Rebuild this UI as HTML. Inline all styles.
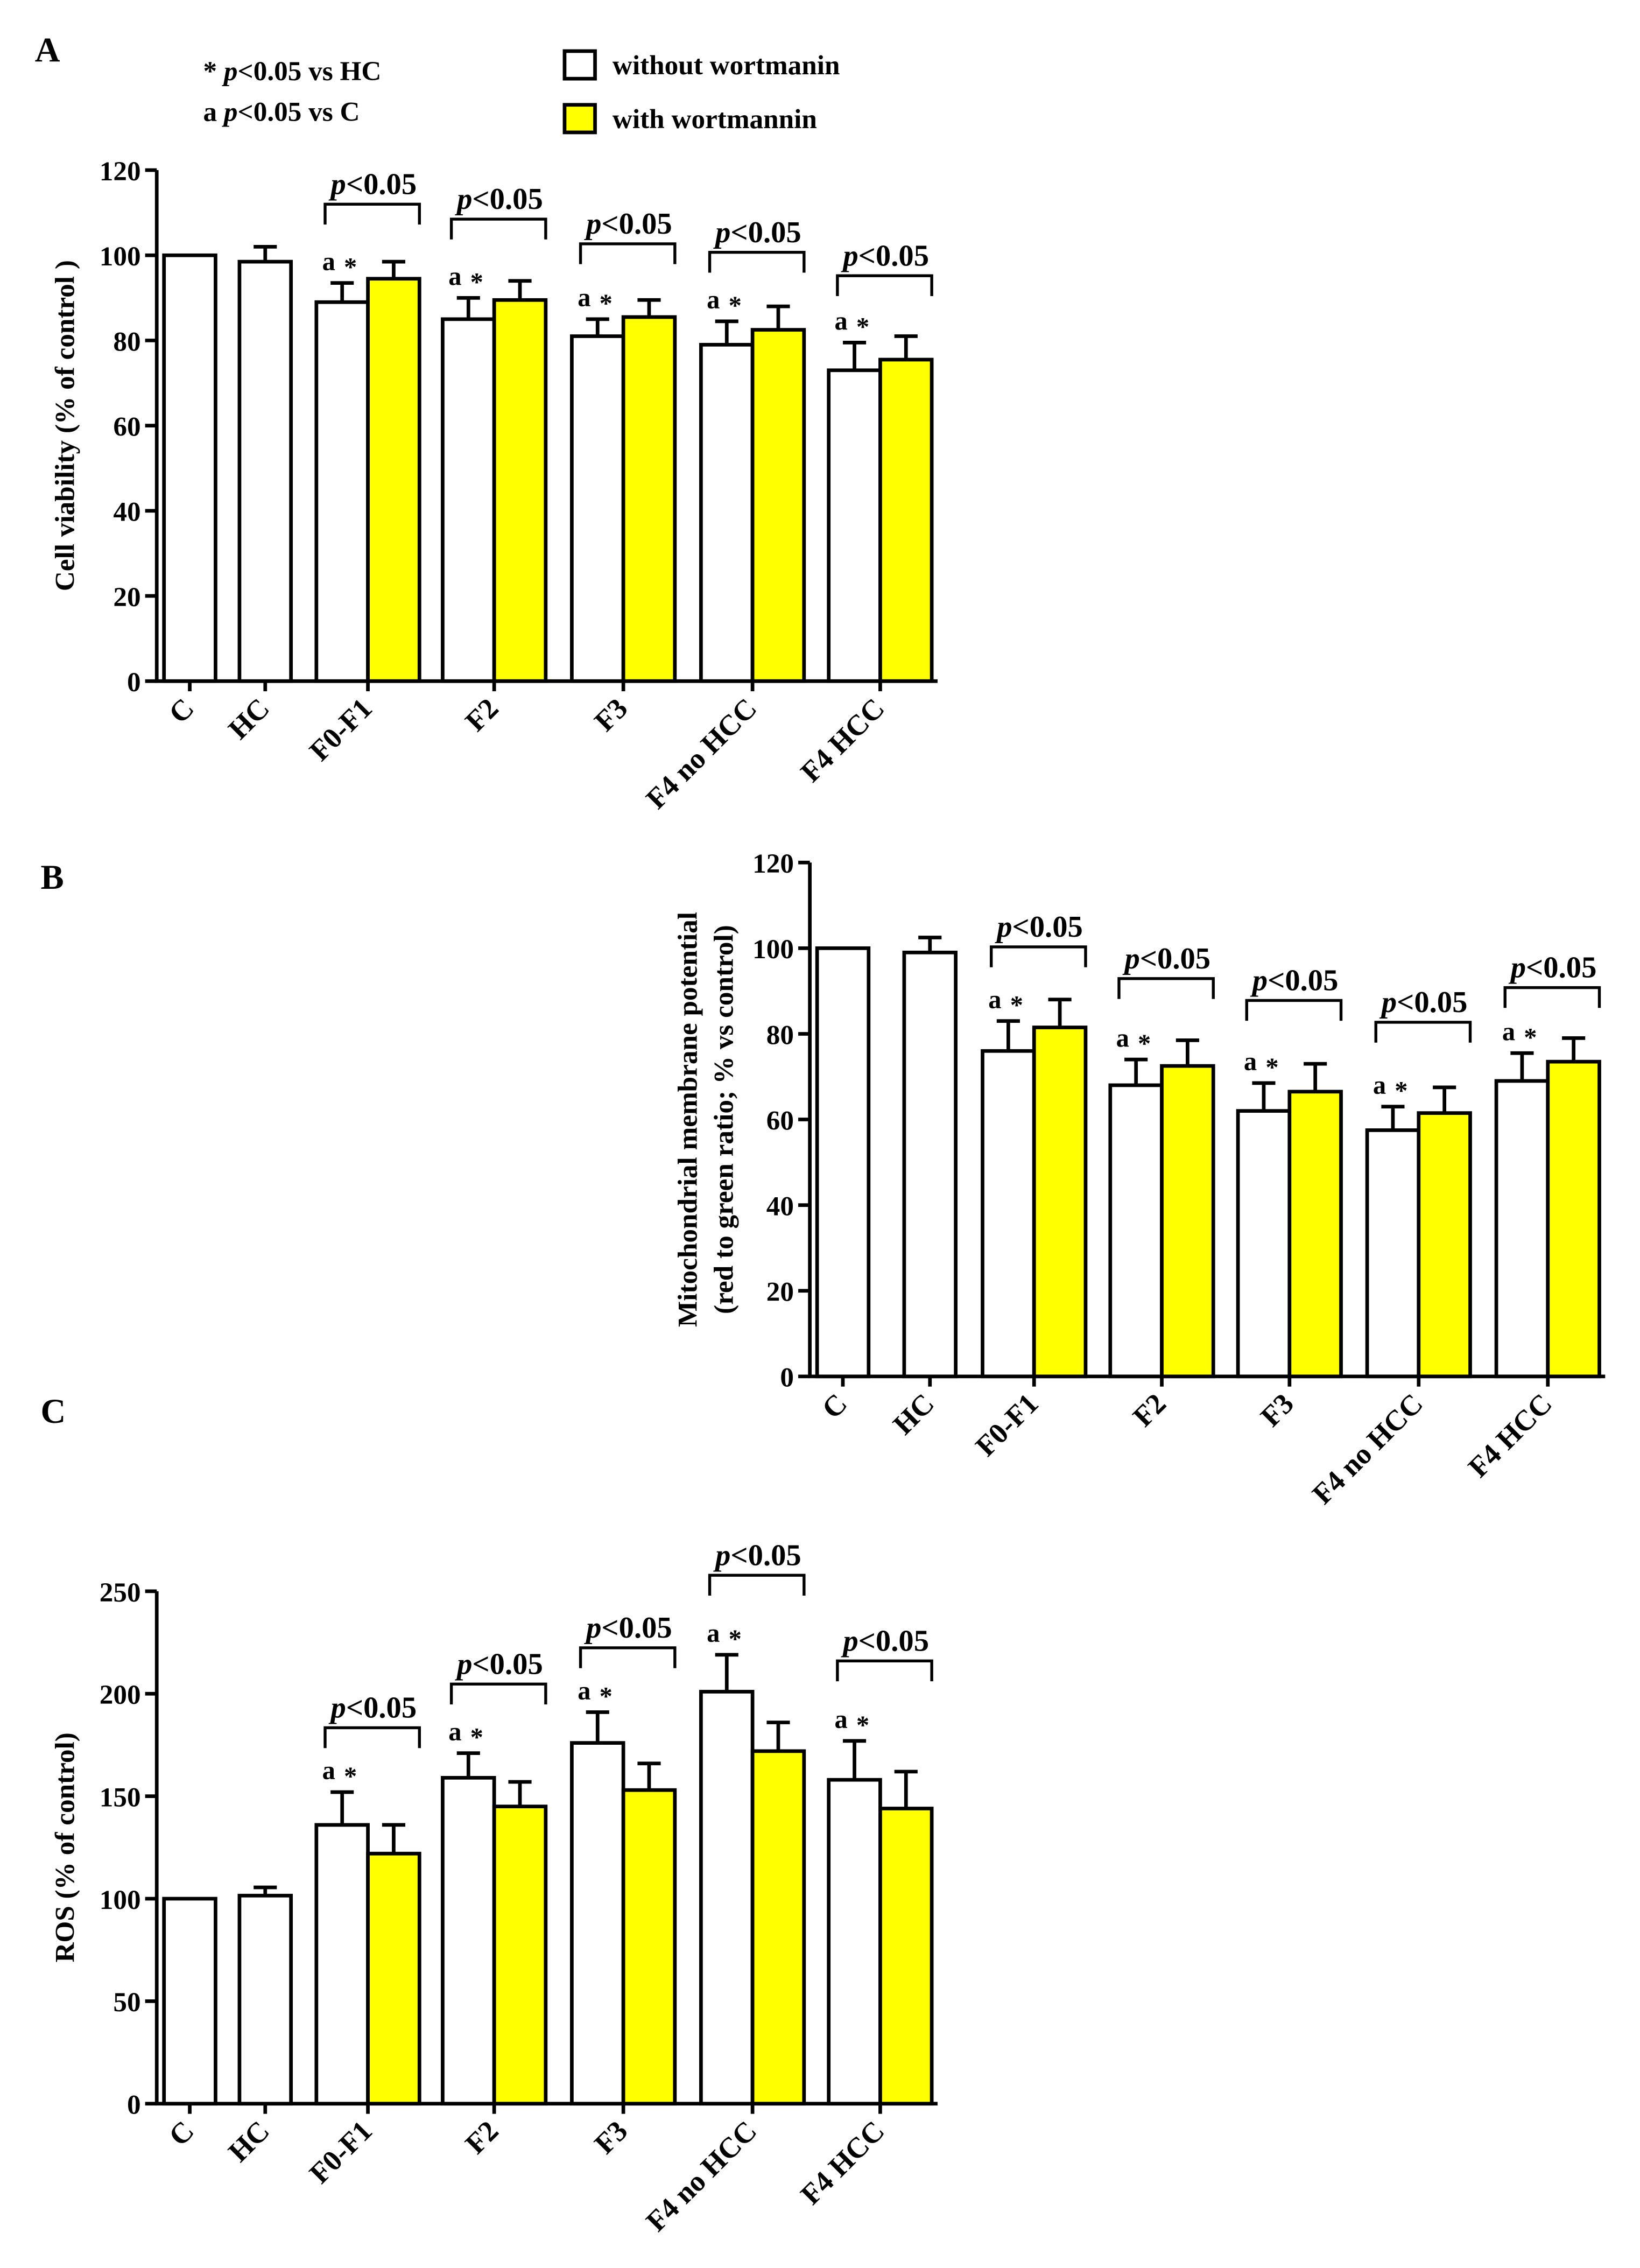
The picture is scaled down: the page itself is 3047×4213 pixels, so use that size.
<!DOCTYPE html>
<html><head><meta charset="utf-8"><style>
html,body{margin:0;padding:0;background:#fff}
svg{display:block}
text{font-family:"Liberation Serif",serif;font-weight:bold;fill:#000}
</style></head><body>
<svg id="fig" width="3047" height="4213" viewBox="0 0 1130 1562" xmlns="http://www.w3.org/2000/svg">
<g>
<text x="24" y="42" font-size="24">A</text>
<text x="28" y="612" font-size="24">B</text>
<text x="28" y="980" font-size="24">C</text>
</g>
<g>
<text x="140" y="55" font-size="19">* <tspan font-style="italic">p</tspan>&lt;0.05 vs HC</text>
<text x="140" y="83" font-size="19">a <tspan font-style="italic">p</tspan>&lt;0.05 vs C</text>
</g>
<g>
<rect x="389" y="35" width="21" height="19" fill="#fff" stroke="#000" stroke-width="2.5"/>
<text x="422" y="51" font-size="19">without wortmanin</text>
<rect x="389" y="72" width="21" height="19" fill="#ffff00" stroke="#000" stroke-width="2.5"/>
<text x="422" y="88" font-size="19">with wortmannin</text>
</g>
<g id="pa"></g>
<g id="pb"></g>
<g id="pc"></g>
</svg>
<script>
const categories = ["C","HC","F0-F1","F2","F3","F4 no HCC","F4 HCC"];
// Panel A: cell viability
const aWithout = [100, 98.5, 89, 85, 81, 79, 73];
const aWithoutErr = [0, 3.5, 4.5, 5, 4, 5.5, 6.5];
const aWith = [null, null, 94.5, 89.5, 85.5, 82.5, 75.5];
const aWithErr = [0, 0, 4, 4.5, 4, 5.5, 5.5];
const aBracket = [null, null, 112, 108.5, 102.7, 100.7, 95.2];
const aTicks = [0,20,40,60,80,100,120];
// Panel B: mitochondrial membrane potential
const bWithout = [100, 99, 76, 68, 62, 57.5, 69];
const bWithoutErr = [0, 3.5, 7, 6, 6.5, 5.5, 6.5];
const bWith = [null, null, 81.5, 72.5, 66.5, 61.5, 73.5];
const bWithErr = [0, 0, 6.5, 6, 6.5, 6, 5.5];
const bBracket = [null, null, 100.3, 92.9, 87.8, 82.7, 90.8];
const bTicks = [0,20,40,60,80,100,120];
// Panel C: ROS
const cWithout = [100, 101.5, 136, 159, 176, 201, 158];
const cWithoutErr = [0, 4, 16, 12, 15, 18, 19];
const cWith = [null, null, 122, 145, 153, 172, 144];
const cWithErr = [0, 0, 14, 12, 13, 14, 18];
const cBracket = [null, null, 183.4, 204.7, 222.4, 257.8, 216];
const cTicks = [0,50,100,150,200,250];

const NS="http://www.w3.org/2000/svg";
function mk(parent,tag,attrs,txt){const e=document.createElementNS(NS,tag);for(const k in attrs)e.setAttribute(k,attrs[k]);if(txt!==undefined)e.textContent=txt;parent.appendChild(e);return e;}

function drawPanel(g, o){
  const y = v => o.y0 - v/(o.ymax) * (o.y0 - o.ytop);
  const ya=mk(g,'line',{x1:o.ax,y1:o.ytop,x2:o.ax,y2:o.y0+1,stroke:'#000','stroke-width':2.5});
  
  
  const xa=mk(g,'line',{x1:o.ax-1,y1:o.y0,x2:o.xend,y2:o.y0,stroke:'#000','stroke-width':2.5});
  
  
  o.ticks.forEach(t=>{
    const l=mk(g,'line',{x1:o.ax-8,y1:y(t),x2:o.ax,y2:y(t),stroke:'#000','stroke-width':2.5});
    
    
    const tx=mk(g,'text',{x:o.ax-11,y:y(t)+7,'font-size':19,'text-anchor':'end'},String(t));
    
    
  });
  const bw=35.5;
  categories.forEach((c,i)=>{
    const x0=o.xs[i];
    const hasWith=o.w[i]!==null;
    const bars=[[o.wo[i],o.woe[i],x0,'#fff']];
    if(hasWith) bars.push([o.w[i],o.we[i],x0+bw,'#ffff00']);
    bars.forEach((b,j)=>{
      const [v,e,bx,col]=b;
      if(e>0){
        const el=mk(g,'line',{x1:bx+bw/2,y1:y(v),x2:bx+bw/2,y2:y(v+e),stroke:'#000','stroke-width':2.5});
        
        
        const ec=mk(g,'line',{x1:bx+bw/2-8,y1:y(v+e),x2:bx+bw/2+8,y2:y(v+e),stroke:'#000','stroke-width':2.5});
        
        
      }
      const r=mk(g,'rect',{x:bx,y:y(v),width:bw,height:o.y0-y(v),fill:col,stroke:'#000','stroke-width':2.5});
      
      
    });
    const cx = hasWith ? x0+bw : x0+bw/2;
    const tk=mk(g,'line',{x1:cx,y1:o.y0,x2:cx,y2:o.y0+7,stroke:'#000','stroke-width':2.5});
    
    
    const lx=cx+4, ly=o.y0+20;
    const lt=mk(g,'text',{x:lx,y:ly,'font-size':20,'text-anchor':'end',transform:`rotate(-45 ${lx} ${ly})`},c);
    
    
    if(hasWith){
      const an=mk(g,'text',{x:x0+4,y:y(o.wo[i]+o.woe[i])-9,'font-size':18},'a');
      
      
      const st=mk(g,'text',{x:x0+19,y:y(o.wo[i]+o.woe[i])-5,'font-size':18},'*');
      
      
      const by=y(o.br[i]);
      const br=mk(g,'path',{d:`M${x0+6} ${by+14} V${by} H${x0+2*bw} V${by+14}`,fill:'none',stroke:'#000','stroke-width':2});
      
      
      const pt=mk(g,'text',{x:x0+bw+4,y:by-7,'font-size':21,'text-anchor':'middle'});
      
      
      mk(pt,'tspan',{'font-style':'italic'},'p');
      mk(pt,'tspan',{},'<0.05');
    }
  });
  const yt=mk(g,'text',{x:0,y:0,'font-size':19,'text-anchor':'middle',transform:`translate(${o.tx} ${(o.y0+o.ytop)/2}) rotate(-90)`});
  
  
  o.title.forEach((t,k)=>{mk(yt,'tspan',{x:0,dy:k?25:0},t);});
}
drawPanel(document.getElementById('pa'),{ax:108,xend:646,y0:469,ytop:117,ymax:120,ticks:aTicks,xs:[113,165,218,305,394,483,571],
  wo:aWithout,woe:aWithoutErr,w:aWith,we:aWithErr,br:aBracket,tx:51,title:["Cell viability (% of control )"]});
drawPanel(document.getElementById('pb'),{ax:558,xend:1106,y0:948,ytop:594,ymax:120,ticks:bTicks,xs:[563,623,677,765,853,942,1031],
  wo:bWithout,woe:bWithoutErr,w:bWith,we:bWithErr,br:bBracket,tx:480,title:["Mitochondrial membrane potential","(red to green ratio; % vs control)"]});
drawPanel(document.getElementById('pc'),{ax:108,xend:646,y0:1449,ytop:1096,ymax:250,ticks:cTicks,xs:[113,165,218,305,394,483,571],
  wo:cWithout,woe:cWithoutErr,w:cWith,we:cWithErr,br:cBracket,tx:51,title:["ROS (% of control)"]});
</script>
</body></html>
